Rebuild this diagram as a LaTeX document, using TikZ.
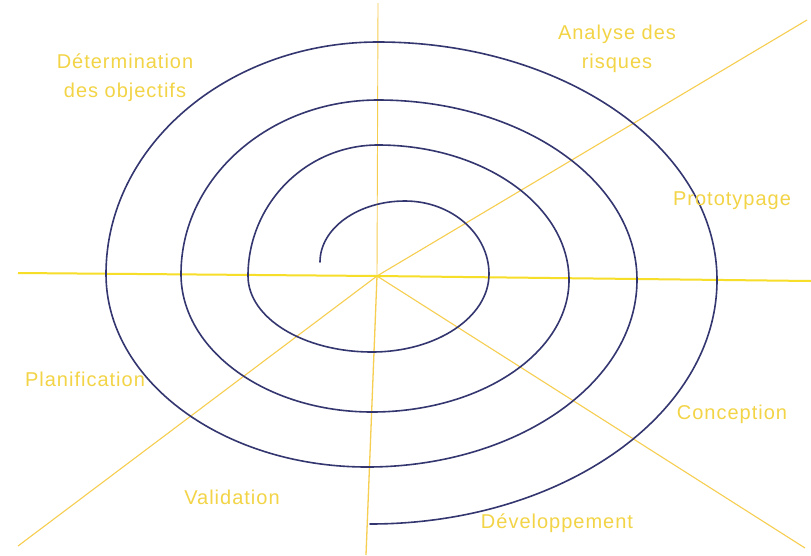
\documentclass[tikz,border=0pt]{standalone}
\usepackage{fontspec}
\setmainfont[LetterSpace=5]{Liberation Sans}
\definecolor{spiralblue}{RGB}{52,54,112}
\definecolor{axisyellow}{RGB}{247,222,40}
\definecolor{rayyellow}{RGB}{246,206,80}
\definecolor{labelyellow}{RGB}{242,212,70}
\tikzset{
  spiral/.style={draw=spiralblue, line width=1.6pt, line cap=round},
  axisline/.style={draw=axisyellow, line width=2pt},
  rayline/.style={draw=rayyellow, line width=1.1pt},
  phase/.style={text=labelyellow, font=\fontsize{20}{29}\selectfont, align=center, inner sep=0pt}
}
\begin{document}
\begin{tikzpicture}[x=1pt,y=-1pt]
\useasboundingbox[fill=white] (0,0) rectangle (811,555);
% centre and ray ends
\coordinate (O) at (377,276);
\coordinate (hl) at (18,273);
\coordinate (hr) at (811,281);
\coordinate (vt) at (378,3);
\coordinate (vb) at (366,555);
\coordinate (ur) at (807,20);
\coordinate (ll) at (18,546);
\coordinate (lr) at (805,548);
% rays
\draw[rayline] (O) -- (ur);
\draw[rayline] (O) -- (ll);
\draw[rayline] (O) -- (lr);
\draw[rayline, line width=0.9pt] (O) -- (vt);
\draw[rayline, line width=1.3pt] (O) -- (vb);
\draw[axisline] (O) -- (hl);
\draw[axisline] (O) -- (hr);
% spiral
\draw[spiral] (320,262)
  .. controls (320,228.3) and (358.1,201) .. (405,201)
  .. controls (451.4,201) and (489,233.7) .. (489,274)
  .. controls (489,317.1) and (436.6,352) .. (372,352)
  .. controls (303.6,352) and (248,318) .. (248,276)
  .. controls (248,203.7) and (306.2,145) .. (378,145)
  .. controls (483.4,145) and (569,205.5) .. (569,280)
  .. controls (569,352.9) and (480.7,412) .. (372,412)
  .. controls (266.6,412) and (181,350.2) .. (181,274)
  .. controls (181,177.9) and (269.3,100) .. (378,100)
  .. controls (521,100) and (637,180.6) .. (637,280)
  .. controls (637,383.2) and (516,467) .. (367,467)
  .. controls (222.9,467) and (106,380.5) .. (106,274)
  .. controls (106,145.9) and (227.9,42) .. (378,42)
  .. controls (565.1,42) and (717,148.6) .. (717,280)
  .. controls (717,414.7) and (561.5,524) .. (370,524);
% labels
\node[phase] (det) at (125,78) {Détermination\\des objectifs};
\node[phase] (ana) at (617,49) {Analyse des\\risques};
\node[phase] (pro) at (732,201) {Prototypage};
\node[phase] (pla) at (85,379) {Planification};
\node[phase] (con) at (732,414) {Conception};
\node[phase] (val) at (232,497) {Validation};
\node[phase] (dev) at (557,523) {Développement};
\end{tikzpicture}
\end{document}
